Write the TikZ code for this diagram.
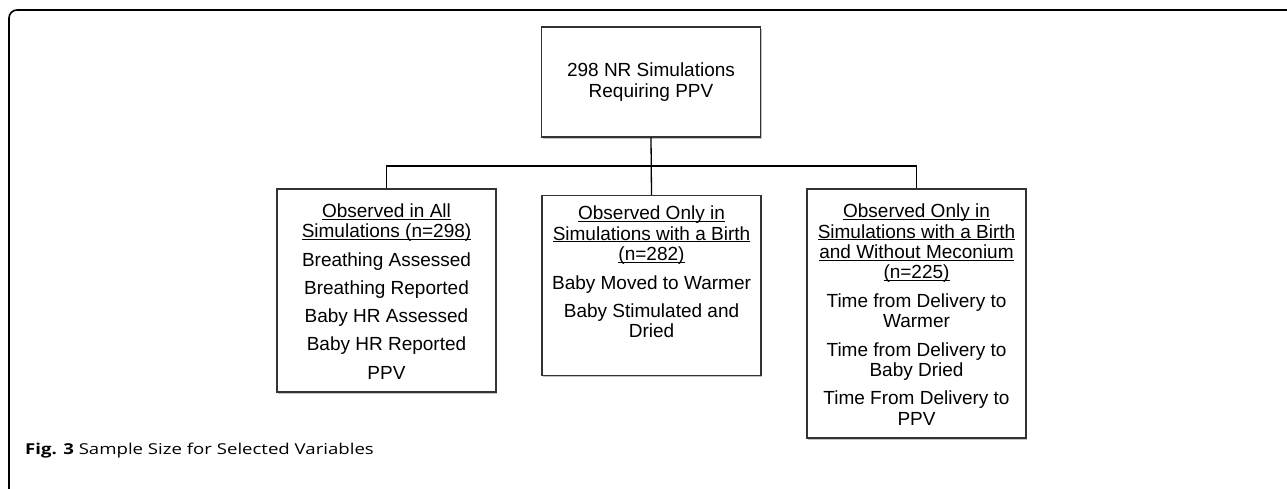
\documentclass[tikz,border=0pt]{standalone}
\usepackage{fontspec}
\setmainfont{Liberation Sans}
\newfontfamily\capfont[FakeStretch=1.24]{Open Sans}
\usetikzlibrary{shadows}
\tikzstyle{box} = [rectangle, minimum width=219pt, inner sep=0, draw=black!80, line width=1.4pt, fill=white, drop shadow={shadow xshift=1.2pt, shadow yshift=-1.6pt, fill=black!40, opacity=0.6}]
\tikzstyle{list} = [align=center, anchor=north, inner sep=0, font=\fontsize{19}{20.3}\selectfont]
\tikzstyle{line} = [line width=1.3pt]
\newcommand{\hd}[1]{\underline{\smash{#1}}}
\begin{document}
\begin{tikzpicture}[x=1pt,y=-1pt]
\clip (0,0) rectangle (1287,488);
\fill[white] (0,0) rectangle (1287,488);
% frame
\draw[line width=1.6pt, rounded corners=8pt] (1300,10)--(9,10)--(9,497)--(1300,497);

% boxes
\node[box, minimum height=110pt, align=center, font=\fontsize{19}{20.3}\selectfont] (top) at (651,82) {298 NR Simulations\\Requiring PPV};
\node[box, minimum height=203pt] (all) at (386.5,290.5) {};
\node[box, minimum height=180pt] (only) at (651.5,285.5) {};
\node[box, minimum height=249pt] (meco) at (916.5,313.5) {};

% texts
\node[list] (alltxt) at (386.5,203) {\strut\hd{Observed in All}\\\hd{Simulations (n=298)}\\[8pt]
 Breathing Assessed\\[8pt] Breathing Reported\\[8pt] Baby HR Assessed\\[8pt] Baby HR Reported\\[8pt] PPV};
\node[list] (onlytxt) at (651.5,205.5) {\strut\hd{Observed Only in}\\\hd{Simulations with a Birth}\\\hd{(n=282)}\\[8.2pt]
 Baby Moved to Warmer\\[8.2pt] Baby Stimulated and\\Dried};
\node[list] (mecotxt) at (916.5,203.5) {\strut\hd{Observed Only in}\\\hd{Simulations with a Birth}\\\hd{and Without Meconium}\\\hd{(n=225)}\\[8.2pt]
 Time from Delivery to\\Warmer\\[8.2pt] Time from Delivery to\\Baby Dried\\[8.2pt] Time From Delivery to\\PPV};

% connectors
\coordinate (bus) at (651,166);
\draw[line] (top.south)--(only.north);
\draw[line] (all.north)|-(bus)-|(meco.north);

% caption
\node[anchor=west, inner sep=0, font=\capfont\fontsize{15}{17}\selectfont] (cap) at (25,451) {\textbf{Fig. 3} Sample Size for Selected Variables};
\end{tikzpicture}
\end{document}
